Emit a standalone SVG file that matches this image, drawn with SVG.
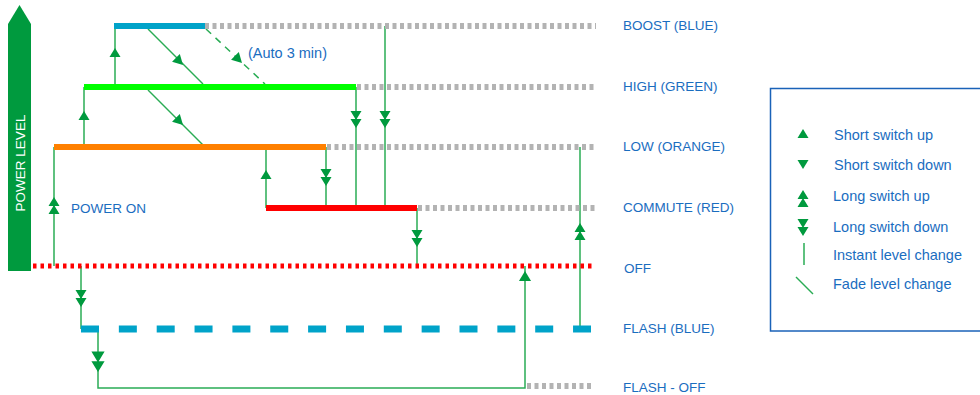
<svg xmlns="http://www.w3.org/2000/svg" width="980" height="395" viewBox="0 0 980 395">
<style>
.lbl{font-family:"Liberation Sans",Arial,sans-serif;font-size:13.5px;fill:#1a6dbf}
.leg{font-family:"Liberation Sans",Arial,sans-serif;font-size:14.5px;fill:#1a6dbf}
.ln{stroke:#2aac55;stroke-width:1.5;fill:none}
.ah{fill:#009a3e}
.gray{stroke:#b3b3b3;stroke-width:6;stroke-dasharray:4 3.5;fill:none}
.bar{stroke-width:6;fill:none}
</style>
<defs>
<path id="up" class="ah" d="M0,0 L5.5,9 L-5.5,9 Z"/>
<path id="dn" class="ah" d="M0,0 L5.5,-9 L-5.5,-9 Z"/>
<path id="up2" class="ah" d="M0,0 L5.5,9 L-5.5,9 Z M0,8 L5.5,17 L-5.5,17 Z"/>
<path id="dn2" class="ah" d="M0,0 L5.5,-9 L-5.5,-9 Z M0,-8 L5.5,-17 L-5.5,-17 Z"/>
<path id="fade" class="ah" d="M0,0 L-5.5,-10 L5.5,-10 Z"/>
</defs>

<g id="power-level">
<polygon points="8,271 8,24 19.5,5 31,24 31,271" fill="#009a3e"/>
<text transform="translate(24.5,163) rotate(-90)" text-anchor="middle" style="font-family:'Liberation Sans',Arial,sans-serif;font-size:13.5px;fill:#ffffff">POWER LEVEL</text>
</g>

<g id="connectors">
<line class="ln" x1="54" y1="147" x2="54" y2="266"/>
<line class="ln" x1="84" y1="87" x2="84" y2="147"/>
<line class="ln" x1="115" y1="26" x2="115" y2="87"/>
<line class="ln" x1="148" y1="29" x2="203" y2="84"/>
<line class="ln" x1="206" y1="29" x2="265" y2="84" stroke-dasharray="7 6"/>
<line class="ln" x1="148" y1="90" x2="203" y2="145"/>
<line class="ln" x1="356" y1="87" x2="356" y2="208"/>
<line class="ln" x1="385" y1="26" x2="385" y2="208"/>
<line class="ln" x1="266" y1="147" x2="266" y2="208"/>
<line class="ln" x1="326" y1="147" x2="326" y2="208"/>
<line class="ln" x1="417" y1="208" x2="417" y2="266"/>
<line class="ln" x1="81" y1="266" x2="81" y2="329"/>
<polyline class="ln" points="98,329 98,388 525,388 525,266"/>
<line class="ln" x1="580" y1="147" x2="580" y2="329"/>
<use href="#up2" x="54" y="197"/>
<use href="#up" x="84" y="111"/>
<use href="#up" x="115" y="48"/>
<use href="#fade" transform="translate(183,65) rotate(-45)"/>
<use href="#fade" transform="translate(242,63) rotate(-45)"/>
<use href="#fade" transform="translate(183,125) rotate(-45)"/>
<use href="#dn2" x="356" y="128"/>
<use href="#dn2" x="385" y="128"/>
<use href="#up" x="266" y="170"/>
<use href="#dn2" x="326" y="186"/>
<use href="#dn2" x="417" y="247"/>
<use href="#dn2" x="81" y="307"/>
<use href="#dn2" transform="translate(98,372) scale(1.2)"/>
<use href="#up" transform="translate(525,271) scale(1.1)"/>
<use href="#up2" x="580" y="223"/>
</g>

<g id="boost">
<line class="gray" x1="205" y1="26" x2="596" y2="26"/>
<line class="bar" stroke="#00a3c9" x1="114" y1="26" x2="205" y2="26"/>
<text class="lbl" x="623" y="30">BOOST (BLUE)</text>
</g>
<g id="high">
<line class="gray" x1="357" y1="87" x2="594" y2="87"/>
<line class="bar" stroke="#00ff00" x1="84" y1="87" x2="356" y2="87"/>
<text class="lbl" x="623" y="91">HIGH (GREEN)</text>
</g>
<g id="low">
<line class="gray" x1="327" y1="147" x2="594" y2="147"/>
<line class="bar" stroke="#ff8000" x1="54" y1="147" x2="326" y2="147"/>
<text class="lbl" x="623" y="151">LOW (ORANGE)</text>
</g>
<g id="commute">
<line class="gray" x1="418" y1="208" x2="595" y2="208"/>
<line class="bar" stroke="#ff0000" x1="266" y1="208" x2="417" y2="208"/>
<text class="lbl" x="623" y="212">COMMUTE (RED)</text>
</g>
<g id="off">
<line stroke="#ff0000" stroke-width="5" stroke-dasharray="3.5 4" x1="33" y1="266" x2="593" y2="266"/>
<text class="lbl" x="624" y="273">OFF</text>
</g>
<g id="flash">
<line stroke="#00a3c9" stroke-width="7" stroke-dasharray="18 19.85" x1="81" y1="329" x2="591" y2="329"/>
<text class="lbl" x="623" y="333">FLASH (BLUE)</text>
</g>
<g id="flash-off">
<line class="gray" x1="527" y1="386" x2="591" y2="386"/>
<text class="lbl" x="623" y="392">FLASH - OFF</text>
</g>
<g id="power-on">
<text class="lbl" x="71" y="213">POWER ON</text>
</g>
<g id="auto">
<text class="leg" x="248" y="58">(Auto 3 min)</text>
</g>

<g id="legend">
<rect x="770.5" y="88.5" width="260" height="242.5" fill="none" stroke="#1a62b8" stroke-width="1.5"/>
<use href="#up" x="803" y="129"/>
<text class="leg" x="834" y="140">Short switch up</text>
<use href="#dn" x="803" y="169"/>
<text class="leg" x="834" y="170">Short switch down</text>
<use href="#up2" x="803" y="190"/>
<text class="leg" x="833" y="201">Long switch up</text>
<use href="#dn2" x="803" y="236"/>
<text class="leg" x="833" y="232">Long switch down</text>
<line class="ln" x1="804" y1="243" x2="804" y2="265"/>
<text class="leg" x="833" y="260">Instant level change</text>
<line class="ln" x1="796" y1="277" x2="813" y2="294"/>
<text class="leg" x="833" y="289">Fade level change</text>
</g>
</svg>
